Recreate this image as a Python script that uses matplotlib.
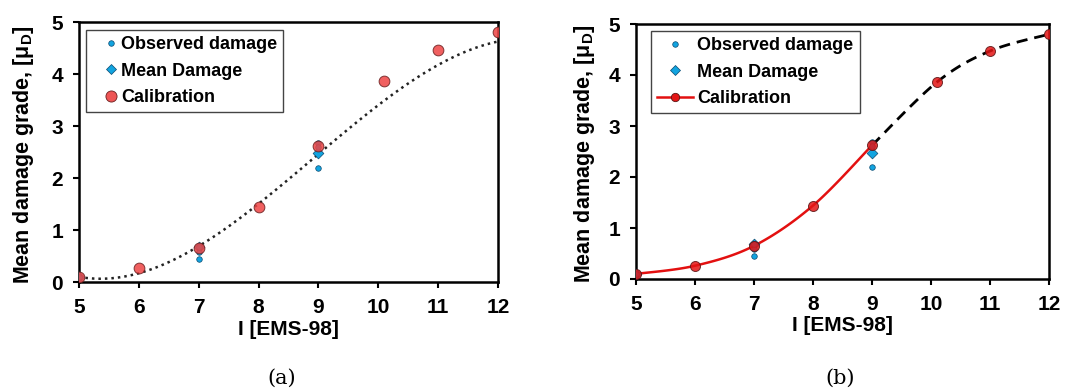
import numpy as np
import matplotlib
matplotlib.use("Agg")
import matplotlib.pyplot as plt
from matplotlib.lines import Line2D

plt.rcParams['font.family'] = ['Liberation Sans', 'DejaVu Sans']
plt.rcParams['font.weight'] = 'bold'
plt.rcParams['mathtext.fontset'] = 'custom'
plt.rcParams['mathtext.bf'] = 'Liberation Sans:bold'
plt.rcParams['mathtext.rm'] = 'Liberation Sans:bold'

# ---- data ----
obs_x = [5, 7, 7, 7, 9, 9, 9]
obs_y = [0.10, 0.45, 0.58, 0.68, 2.20, 2.68, 2.60]
mean_x = [5, 7, 9]
mean_y = [0.10, 0.68, 2.48]
cal_x = [5, 6, 7, 8, 9, 10.1, 11, 12]
cal_y = [0.10, 0.26, 0.65, 1.44, 2.62, 3.86, 4.47, 4.80]
# dotted trend line in panel (a)
trend_x = [5, 6, 7, 8, 9, 10, 11, 12]
trend_y = [0.10, 0.17, 0.68, 1.50, 2.50, 3.35, 4.20, 4.62]
xticks = [5, 6, 7, 8, 9, 10, 11, 12]
yticks = [0, 1, 2, 3, 4, 5]
labels = ['Observed damage', 'Mean Damage', 'Calibration']


def smooth(xs, ys, n=30):
    """Excel-style smoothed line through points (Catmull-Rom Bezier)."""
    P = np.column_stack([xs, ys]).astype(float)
    out = []
    for i in range(len(P) - 1):
        p0 = P[i - 1] if i > 0 else P[i]
        p1, p2 = P[i], P[i + 1]
        p3 = P[i + 2] if i + 2 < len(P) else P[i + 1]
        c1 = p1 + (p2 - p0) / 6
        c2 = p2 - (p3 - p1) / 6
        t = np.linspace(0, 1, n)[:, None]
        seg = (1 - t) ** 3 * p1 + 3 * (1 - t) ** 2 * t * c1 + 3 * (1 - t) * t ** 2 * c2 + t ** 3 * p2
        out.append(seg if i == 0 else seg[1:])
    S = np.vstack(out)
    return S[:, 0], S[:, 1]


fig = plt.figure(figsize=(10.83, 3.92), dpi=100)
W, H = 1083, 392
axA = fig.add_axes([79 / W, 1 - 282 / H, (498 - 79) / W, (282 - 22) / H])
axB = fig.add_axes([636 / W, 1 - 279 / H, (1049 - 636) / W, (279 - 24) / H])

blue = '#12A4E0'
bedge = '#0A4A70'

def style(ax, ylab_x):
    ax.set_xlim(5, 12)
    ax.set_ylim(0, 5)
    ax.set_xticks(xticks)
    ax.set_yticks(yticks)
    ax.tick_params(direction='out', length=4.5, width=1.5, labelsize=15, pad=7)
    for lab in ax.get_xticklabels() + ax.get_yticklabels():
        lab.set_fontweight('bold')
    for s in ax.spines.values():
        s.set_linewidth(1.8)
    ax.set_xlabel('I [EMS-98]', fontsize=15, fontweight='bold')
    ax.set_ylabel(r'Mean damage grade, [$\mathbf{\mu_D}$]', fontsize=15.5, fontweight='bold')
    ax.xaxis.set_label_coords(0.5, -0.145)
    ax.yaxis.set_label_coords(ylab_x, 0.49)

# ---- panel (a) ----
coef = np.polyfit(trend_x, trend_y, 3)
xf = np.linspace(5, 12, 200)
axA.plot(xf, np.polyval(coef, xf), color='#222222', linestyle=(0, (1, 1.6)), lw=1.8, zorder=2)
axA.scatter(cal_x, cal_y, s=60, color='#EE4444', alpha=0.85, edgecolor='#6A2020', linewidth=0.7, zorder=4)
axA.scatter(mean_x, mean_y, s=30, marker='D', color=blue, edgecolor=bedge, linewidth=0.5, zorder=3)
axA.scatter(obs_x, obs_y, s=16, color=blue, edgecolor=bedge, linewidth=0.5, zorder=3)
style(axA, -0.103)
hA = [Line2D([], [], ls='none', marker='o', ms=4, mfc=blue, mec=bedge, mew=0.5),
      Line2D([], [], ls='none', marker='D', ms=5.5, mfc=blue, mec=bedge, mew=0.5),
      Line2D([], [], ls='none', marker='o', ms=8, mfc='#EE5555', mec='#6A2020', mew=0.6)]
legA = axA.legend(hA, labels, loc='upper left',
                  bbox_to_anchor=(0.0167, 0.969), fancybox=False, edgecolor='#444444', framealpha=1,
                  prop={'weight': 'bold', 'size': 13}, handlelength=2.08, handletextpad=-0.5,
                  labelspacing=0.52, borderpad=0.35, borderaxespad=0)
legA.get_frame().set_linewidth(1.0)

# ---- panel (b) ----
sx1, sy1 = smooth(cal_x[:5], cal_y[:5])
sx2, sy2 = smooth(cal_x[4:], cal_y[4:])
axB.plot(sx1, sy1, color='#E31010', lw=1.8, zorder=2)
axB.plot(sx2, sy2, color='black', lw=2.0, linestyle=(0, (4, 2.5)), zorder=2)
axB.scatter(mean_x, mean_y, s=30, marker='D', color=blue, edgecolor=bedge, linewidth=0.5, zorder=3)
axB.scatter(obs_x, obs_y, s=16, color=blue, edgecolor=bedge, linewidth=0.5, zorder=3)
axB.scatter(cal_x, cal_y, s=52, color='#E31515', alpha=0.85, edgecolor='#5A1515', linewidth=0.7, zorder=4)
style(axB, -0.094)
hB = [Line2D([], [], ls='none', marker='o', ms=4, mfc=blue, mec=bedge, mew=0.5),
      Line2D([], [], ls='none', marker='D', ms=5.5, mfc=blue, mec=bedge, mew=0.5),
      Line2D([], [], color='#E31010', lw=1.8, marker='o', ms=6, mfc='#E31515', mec='#5A1515', mew=0.6)]
legB = axB.legend(hB, labels, loc='upper left',
                  bbox_to_anchor=(0.036, 0.973), fancybox=False, edgecolor='#444444', framealpha=1,
                  prop={'weight': 'bold', 'size': 13}, handlelength=2.0, handletextpad=0.22,
                  labelspacing=0.52, borderpad=0.35, borderaxespad=0)
legB.get_frame().set_linewidth(1.0)

fig.text(282 / W, 1 - 378 / H, '(a)', ha='center', va='center', fontsize=15,
         family='DejaVu Serif', fontweight='normal')
fig.text(840 / W, 1 - 378 / H, '(b)', ha='center', va='center', fontsize=15,
         family='DejaVu Serif', fontweight='normal')

fig.savefig('out.png', dpi=100)
